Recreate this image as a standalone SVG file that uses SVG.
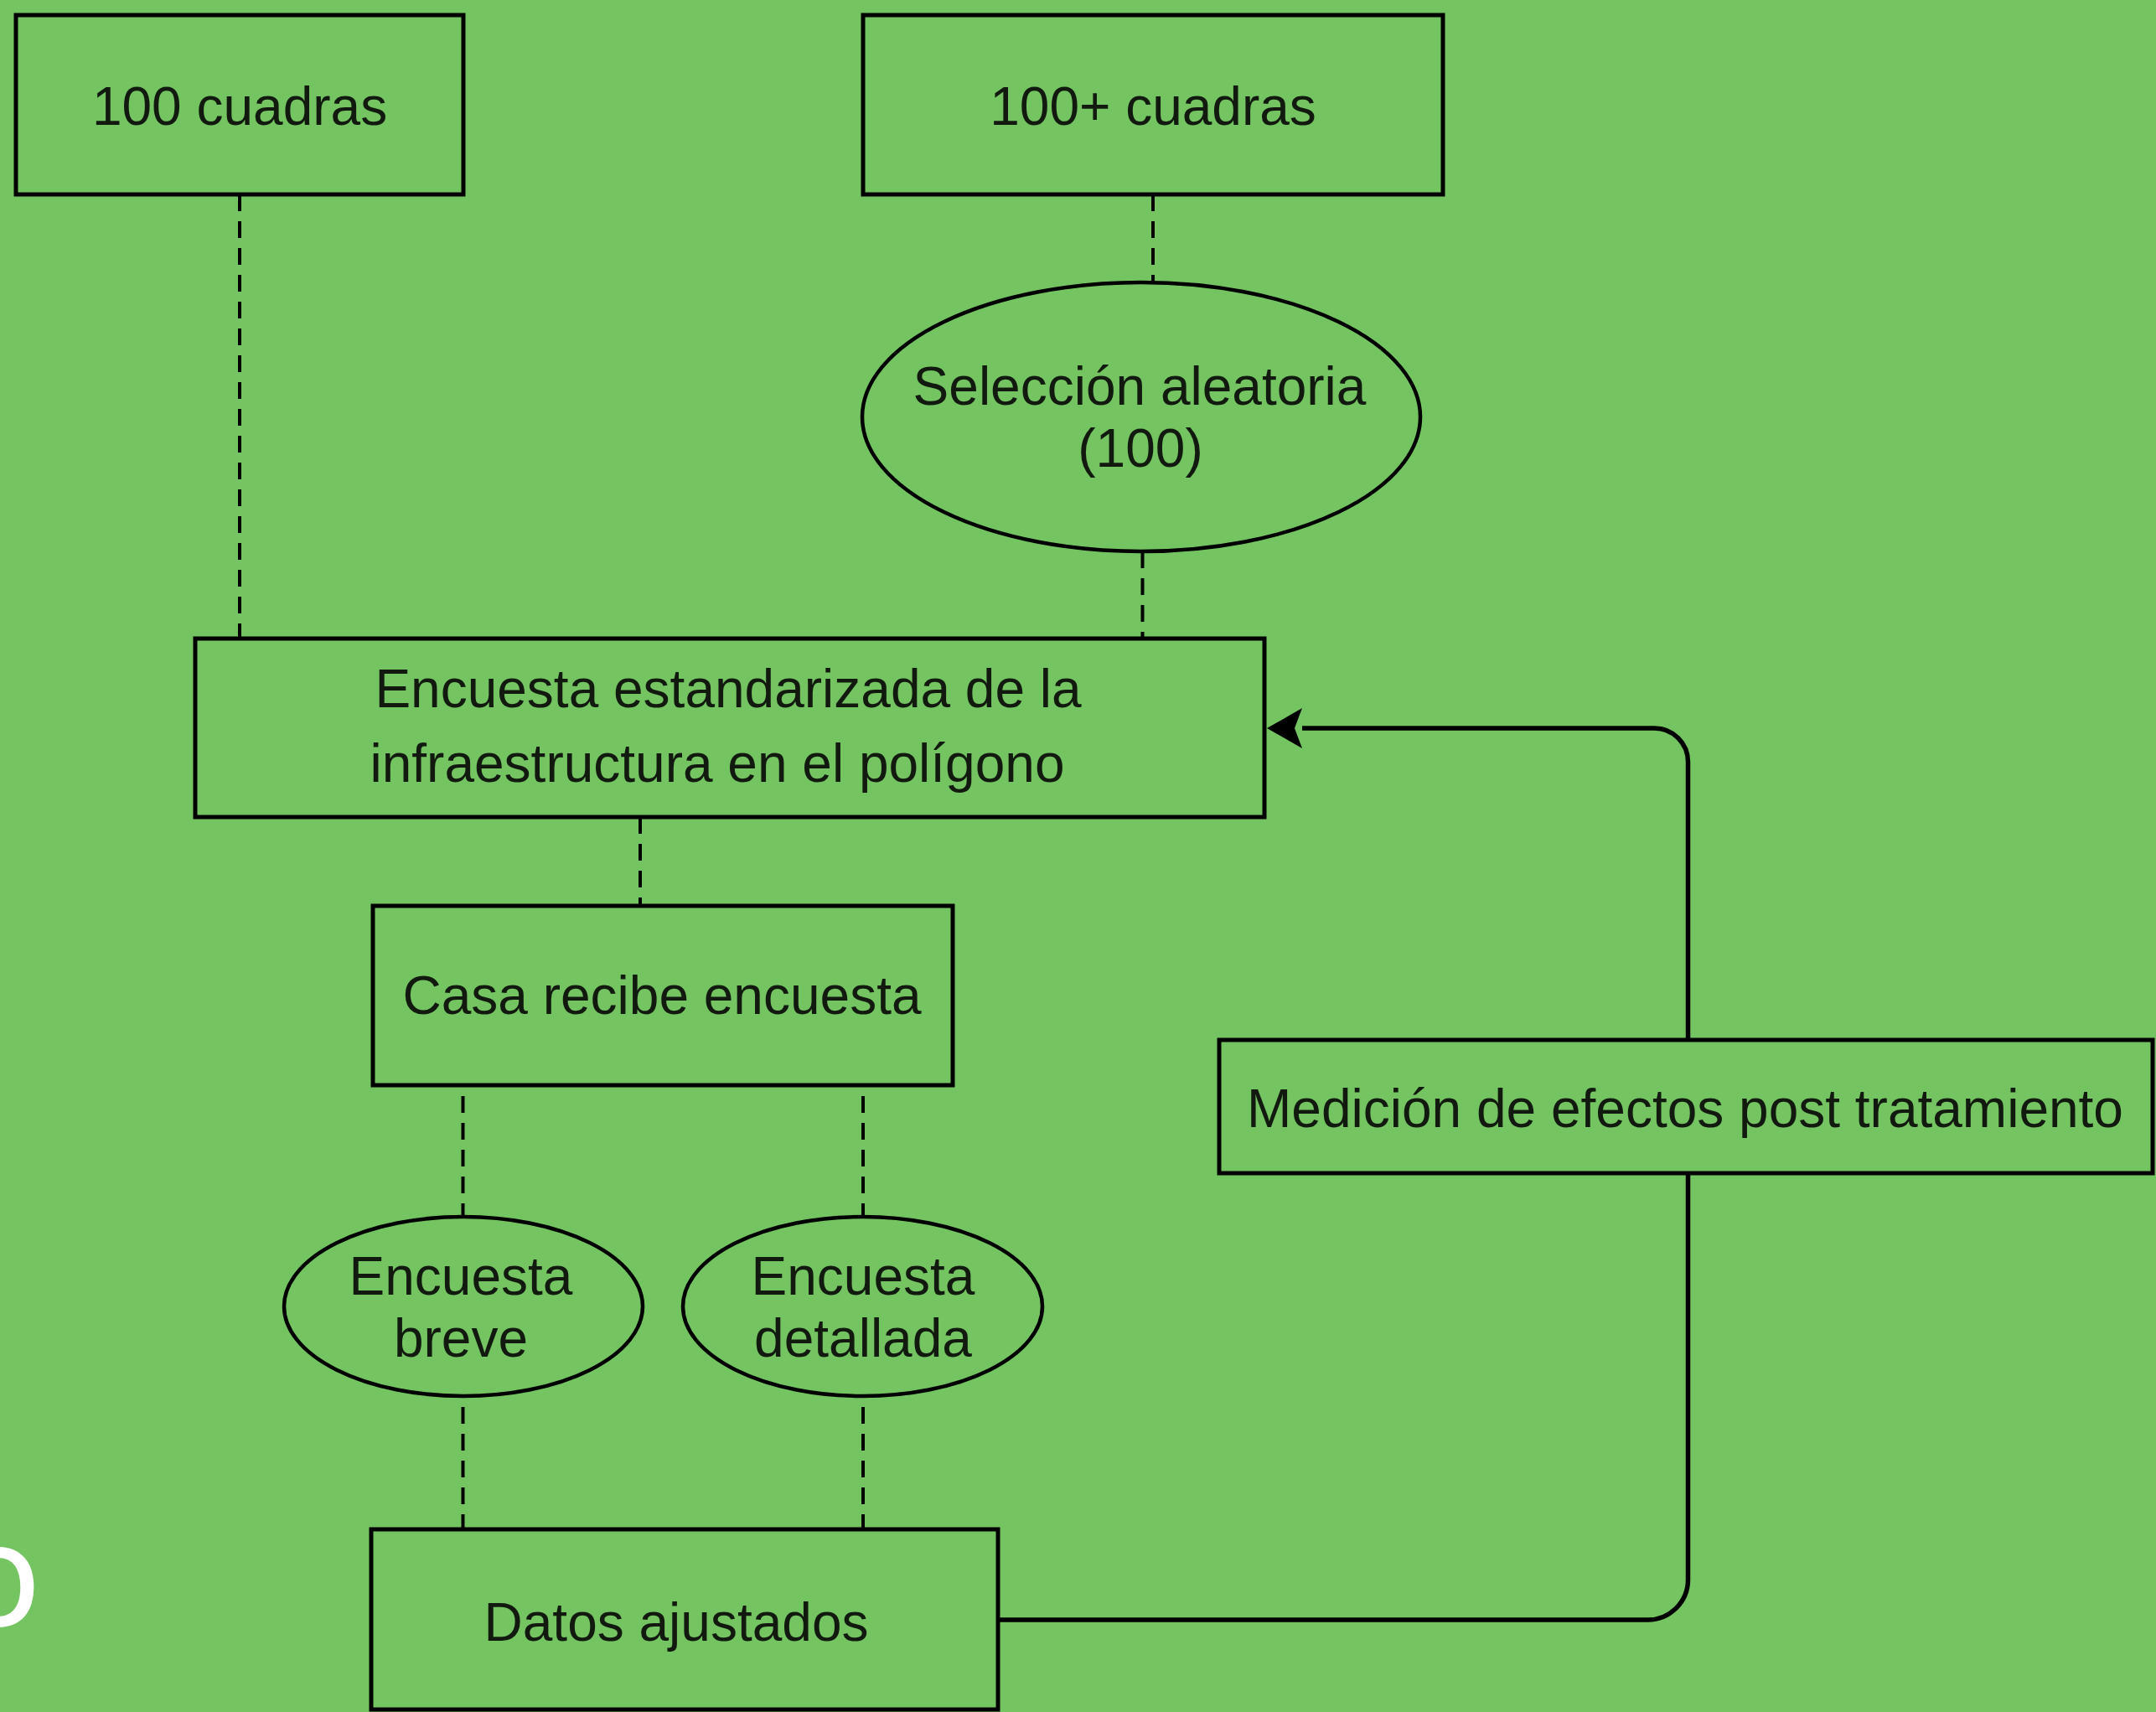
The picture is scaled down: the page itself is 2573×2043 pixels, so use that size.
<svg xmlns="http://www.w3.org/2000/svg" width="2573" height="2043" viewBox="0 0 2573 2043">
  <style>
    .box { fill: #74C462; stroke: #000; stroke-width: 5; }
    .ell { fill: #74C462; stroke: #000; stroke-width: 4.5; }
    .lbl { font-family: "Liberation Sans", Arial, sans-serif; font-size: 64px; fill: #121a10; text-anchor: middle; }
    .dash { fill: none; stroke: #000; stroke-width: 4; stroke-dasharray: 20 12; }
    .solid { fill: none; stroke: #000; stroke-width: 5.5; }
  </style>
  <defs>
    <marker id="arrow" markerUnits="userSpaceOnUse" markerWidth="50" markerHeight="60" refX="0" refY="24" orient="auto" viewBox="0 0 50 48">
      <path d="M0,24 L42,0 L33,24 L42,48 Z" fill="#000"/>
    </marker>
  </defs>
  <rect x="0" y="0" width="2573" height="2043" fill="#74C462"/>

  <g id="connectors">
    <line class="dash" x1="286" y1="232" x2="286" y2="762"/>
    <line class="dash" x1="1376" y1="232" x2="1376" y2="337"/>
    <line class="dash" x1="1363.5" y1="658" x2="1363.5" y2="770"/>
    <line class="dash" x1="764" y1="975" x2="764" y2="1081"/>
    <line class="dash" x1="552.5" y1="1308" x2="552.5" y2="1452"/>
    <line class="dash" x1="1030" y1="1308" x2="1030" y2="1452"/>
    <line class="dash" x1="552.5" y1="1679" x2="552.5" y2="1825"/>
    <line class="dash" x1="1030" y1="1679" x2="1030" y2="1825"/>
    <path class="solid" d="M1191,1933 L1966,1933 A48,48 0 0 0 2014.5,1885 L2014.5,909 A40,40 0 0 0 1974.5,869 L1554,869"/>
    <path d="M1512,869 L1554,845 L1545,869 L1554,893 Z" fill="#000"/>
  </g>

  <g id="n-100-cuadras">
    <rect class="box" x="19" y="18" width="534" height="214"/>
    <text class="lbl" x="286" y="149">100 cuadras</text>
  </g>
  <g id="n-100plus-cuadras">
    <rect class="box" x="1030" y="18" width="692" height="214"/>
    <text class="lbl" x="1376" y="149">100+ cuadras</text>
  </g>
  <g id="n-seleccion">
    <ellipse class="ell" cx="1362" cy="497.5" rx="333" ry="160.5"/>
    <text class="lbl" x="1360" y="483">Selección aleatoria</text>
    <text class="lbl" x="1361" y="557">(100)</text>
  </g>
  <g id="n-encuesta-estandarizada">
    <rect class="box" x="233" y="762" width="1276" height="213"/>
    <text class="lbl" x="869" y="844">Encuesta estandarizada de la</text>
    <text class="lbl" x="856" y="933">infraestructura en el polígono</text>
  </g>
  <g id="n-casa">
    <rect class="box" x="445" y="1081" width="692" height="214"/>
    <text class="lbl" x="790" y="1210">Casa recibe encuesta</text>
  </g>
  <g id="n-breve">
    <ellipse class="ell" cx="553" cy="1559" rx="214" ry="107"/>
    <text class="lbl" x="550" y="1545">Encuesta</text>
    <text class="lbl" x="550" y="1619">breve</text>
  </g>
  <g id="n-detallada">
    <ellipse class="ell" cx="1029.5" cy="1559" rx="214.5" ry="107"/>
    <text class="lbl" x="1030" y="1545">Encuesta</text>
    <text class="lbl" x="1030" y="1619">detallada</text>
  </g>
  <g id="n-datos">
    <rect class="box" x="443" y="1825" width="748" height="215"/>
    <text class="lbl" x="807" y="1958">Datos ajustados</text>
  </g>
  <g id="n-medicion">
    <rect class="box" x="1455" y="1241" width="1114" height="159"/>
    <text class="lbl" x="2011" y="1345">Medición de efectos post tratamiento</text>
  </g>

  <text x="-3" y="1941" font-family="'Open Sans', 'Noto Sans', sans-serif" font-size="130" font-weight="600" fill="#ffffff" text-anchor="middle">O</text>
</svg>
